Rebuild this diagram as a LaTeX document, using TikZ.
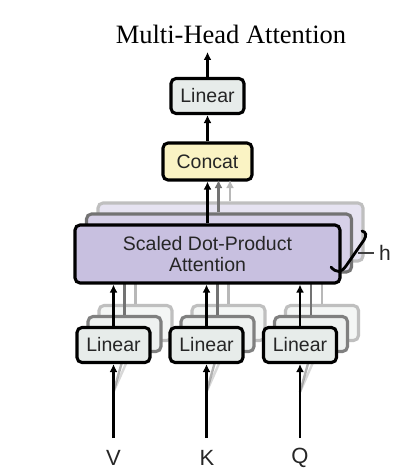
\documentclass[tikz,border=0pt]{standalone}
\usepackage{fontspec}
\setmainfont{Liberation Serif}
\newfontfamily\helv{Liberation Sans}
\usetikzlibrary{arrows.meta,calc}
\definecolor{linfill}{HTML}{E7ECEA}
\definecolor{catfill}{HTML}{FAF3C4}
\definecolor{attfill}{HTML}{C8C0E0}
\definecolor{attfillb}{HTML}{D6D0E8}
\definecolor{attfillc}{HTML}{E6E3F1}
\definecolor{linfillb}{HTML}{EEF1F0}
\definecolor{linfillc}{HTML}{F4F6F5}
\tikzset{
  box/.style={draw=black, line width=3.1pt, rounded corners=5pt, inner sep=0pt,
    font=\helv\fontsize{19.5}{22}\selectfont, text=black!85},
  linbox/.style={box, fill=linfill, minimum width=73pt, minimum height=35pt},
  linboxb/.style={linbox, draw=black!50, fill=linfillb, text opacity=0},
  linboxc/.style={linbox, draw=black!25, fill=linfillc, text opacity=0},
  attbox/.style={box, fill=attfill, minimum width=265pt, minimum height=58pt, align=center},
  attboxb/.style={attbox, draw=black!55, fill=attfillb},
  attboxc/.style={attbox, draw=black!25, fill=attfillc},
  arr/.style={line width=2.8pt, -{Latex[length=8pt,width=8pt]}},
  arrb/.style={arr, draw=black!55},
  arrc/.style={arr, draw=black!28},
  lnb/.style={line width=2.8pt, draw=black!55},
  lnc/.style={line width=2.8pt, draw=black!28},
  shad/.style={line width=2.4pt, draw=black!50, opacity=0.6},
  lbl/.style={font=\helv\fontsize{22}{24}\selectfont, text=black!85, inner sep=0pt}
}
\begin{document}
\begin{tikzpicture}[x=1pt,y=-1pt]
\useasboundingbox (0,0) rectangle (402,476);
\fill[white] (0,0) rectangle (402,476);

% title
\node (title) at (231,34) {\fontsize{26.5}{28}\selectfont Multi-Head Attention};

% back copies of attention
\node[attboxc] (att3) at (230.5,232) {};
\node[attboxb] (att2) at (219,243) {};

% back copies of linear boxes
\foreach \n/\x in {v/113.5,k/206.5,q/300}{
  \node[linboxc] (lin3\n) at (\x+22,323) {};
  \node[linboxb] (lin2\n) at (\x+11,334) {};
}

% inputs
\node[lbl] (V) at (113.5,458) {V};
\node[lbl] (K) at (207,458) {K};
\node[lbl] (Q) at (300,458) {Q};
\coordinate (vin) at (113.5,438);
\coordinate (kin) at (206.5,438);
\coordinate (qin) at (300,438);

% shadow wedges from inputs to back copies
\foreach \n in {v,k,q}{
  \draw[shad] ($(\n in)+(0,-46)$) -- (lin2\n.south);
  \draw[shad, opacity=0.3] ($(\n in)+(0,-46)$) -- (lin3\n.south);
}

% connectors from back linear copies to back attention copies
\foreach \n in {v,k,q}{
  \draw[lnc] (lin3\n.north) -- (lin3\n.north |- att3.south);
  \draw[lnb] (lin2\n.north) -- (lin2\n.north |- att2.south);
}

% concat
\node[box, fill=catfill, minimum width=89pt, minimum height=37pt] (concat) at (207.5,161.5) {Concat};

% connectors from back attention copies to concat
\draw[arrc] (att3.north -| 230,0) -- (230,180);
\draw[arrb] (att2.north -| 218.5,0) -- (218.5,180);

% main attention
\node[attbox] (att) at (207.5,254) {Scaled Dot-Product\\[-1pt]Attention};

% main linear boxes
\node[linbox] (linv) at (113.5,345) {Linear};
\node[linbox] (link) at (206.5,345) {Linear};
\node[linbox] (linq) at (300,345) {Linear};

% top linear
\node[linbox] (lintop) at (207.5,96) {Linear};
\coordinate (out) at (207.5,52);

% arrows
\draw[arr] (vin) -- (linv.south);
\draw[arr] (kin) -- (link.south);
\draw[arr] (qin) -- (linq.south);
\draw[arr] (linv.north) -- (linv.north |- att.south);
\draw[arr] (link.north) -- (link.north |- att.south);
\draw[arr] (linq.north) -- (linq.north |- att.south);
\draw[arr] (att.north -| concat.south) -- (concat.south);
\draw[arr] (concat.north) -- (lintop.south);
\draw[arr] (lintop.north) -- (out);

% h brace
\draw[line width=2.8pt, line cap=round] (331,267) .. controls (336,273) and (341,273) .. (346,266)
  -- (364,240) .. controls (367,235) and (366,232) .. (362,231);
\node[lbl, font=\helv\fontsize{21}{23}\selectfont] (h) at (385,253) {h};
\draw[line width=1.6pt, draw=black!75] (358,253) -- (374,253);
\end{tikzpicture}
\end{document}
